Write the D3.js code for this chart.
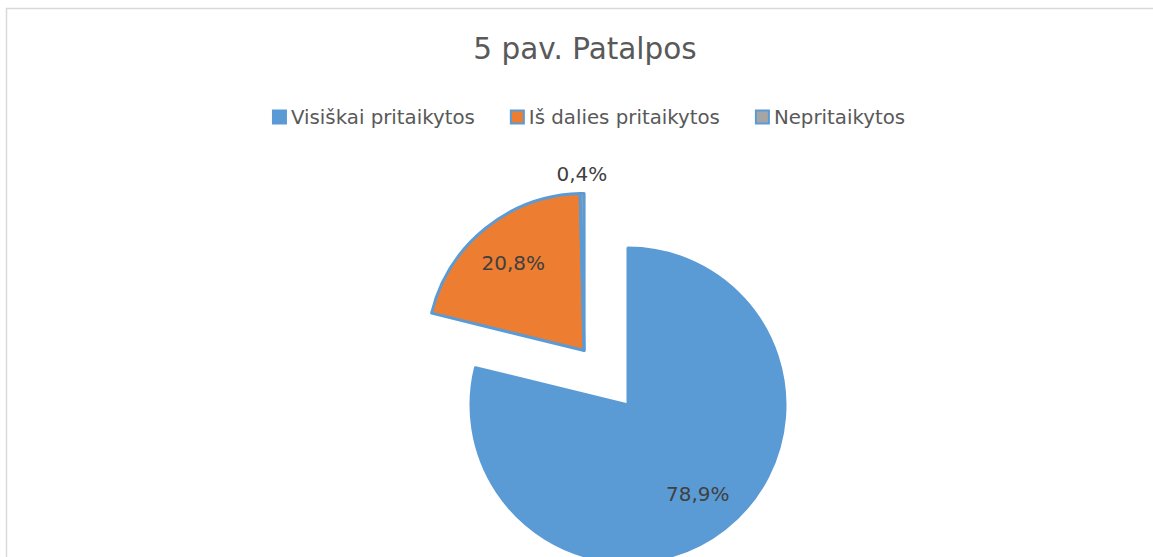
<!DOCTYPE html>
<html>
<head>
<meta charset="utf-8">
<script src="https://cdn.jsdelivr.net/npm/d3@7"></script>
<style>
    body { margin: 0; background: #fff; }
    svg { display: block; }
    text { font-family: "DejaVu Sans", sans-serif; }
</style>
</head>
<body>
<svg id="chart" width="1153" height="557"></svg>
<script>
var title = "5 pav. Patalpos",
    categories = ["Visiškai pritaikytos", "Iš dalies pritaikytos", "Nepritaikytos"],
    values = [78.9, 20.8, 0.4],
    labels = ["78,9%", "20,8%", "0,4%"],
    colors = ["#5b9bd5", "#ed7d31", "#a5a5a5"],
    exploded = [false, true, true];

function draw_chart() {
    var svg = d3.select("#chart"),
        width = +svg.attr("width"),
        height = +svg.attr("height"),
        cx = 628, cy = 405,
        radius = 157,
        explode = 70;

    // chart frame, runs off the right and bottom of the picture
    svg.append("rect")
        .attr("x", 6.5).attr("y", 8.5)
        .attr("width", width + 20).attr("height", height + 20)
        .attr("fill", "#fff")
        .attr("stroke", "#d9d9d9").attr("stroke-width", 1.5);

    svg.append("text")
        .attr("x", 585).attr("y", 59)
        .attr("text-anchor", "middle")
        .attr("fill", "#595959")
        .style("font-size", "29.5px")
        .text(title);

    // legend, laid out from measured text widths
    var legend = svg.append("g").attr("transform", "translate(0,117)"),
        box = 13, pad = 5, gap = 36, x = 0;

    var items = legend.selectAll("g").data(categories).enter().append("g");
    items.append("rect")
        .attr("y", -box / 2).attr("width", box).attr("height", box)
        .attr("fill", (d, i) => colors[i])
        .attr("stroke", colors[0]).attr("stroke-width", 2);
    items.append("text")
        .attr("x", box + pad).attr("dy", "0.36em")
        .attr("fill", "#595959")
        .style("font-size", "19.8px")
        .text(d => d);

    items.each(function() {
        var g = d3.select(this);
        g.attr("transform", "translate(" + x + ",0)");
        x += box + pad + g.select("text").node().getComputedTextLength() + gap;
    });
    x -= gap;
    legend.attr("transform", "translate(" + (589 - x / 2) + ",117)");

    // pie
    var pie = d3.pie().sort(null).value(d => d),
        arcs = pie(values),
        arc = d3.arc().innerRadius(0).outerRadius(radius),
        inLabel = d3.arc().innerRadius(radius * 0.72).outerRadius(radius * 0.72),
        outLabel = d3.arc().innerRadius(radius + 20).outerRadius(radius + 20);

    // exploded slices all move along the larger exploded slice's middle
    var mid = (arcs[1].startAngle + arcs[1].endAngle) / 2,
        off = [Math.sin(mid) * explode, -Math.cos(mid) * explode];

    var g = svg.append("g").attr("transform", "translate(" + [cx, cy] + ")");

    var slices = g.selectAll("g.slice").data(arcs).enter().append("g")
        .classed("slice", true)
        .attr("transform", (d, i) => exploded[i] ? "translate(" + off + ")" : null);

    slices.append("path")
        .attr("d", arc)
        .attr("fill", (d, i) => colors[i])
        .attr("stroke", colors[0])
        .attr("stroke-width", 3)
        .attr("stroke-linejoin", "round");

    slices.append("text")
        .attr("transform", d => "translate(" + ((d.endAngle - d.startAngle) < 0.2 ? outLabel : inLabel).centroid(d) + ")")
        .attr("text-anchor", "middle")
        .attr("dy", "0.36em")
        .attr("fill", "#404040")
        .style("font-size", "20px")
        .text((d, i) => labels[i]);
}

draw_chart();
</script>
</body>
</html>
